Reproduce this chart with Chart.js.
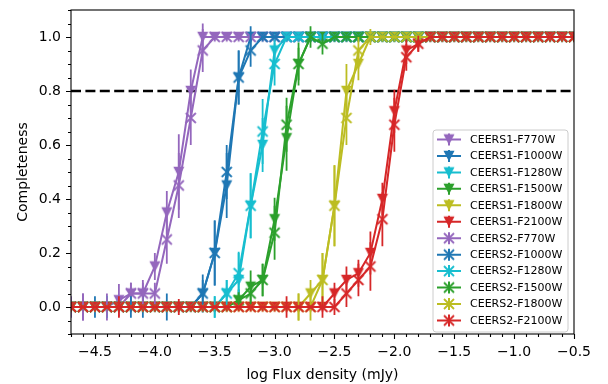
<!DOCTYPE html>
<html>
<head>
<meta charset="utf-8">
<script src="https://cdn.jsdelivr.net/npm/chart.js@4.4.1/dist/chart.umd.min.js"></script>
<style>
  html, body { margin: 0; padding: 0; background: #fff; }
</style>
</head>
<body>
<canvas id="chart" width="608" height="384"></canvas>
<script>
// log flux bins (mJy)
const xValues = [-4.7, -4.6, -4.5, -4.4, -4.3, -4.2, -4.1, -4.0, -3.9, -3.8,
  -3.7, -3.6, -3.5, -3.4, -3.3, -3.2, -3.1, -3.0, -2.9, -2.8,
  -2.7, -2.6, -2.5, -2.4, -2.3, -2.2, -2.1, -2.0, -1.9, -1.8,
  -1.7, -1.6, -1.5, -1.4, -1.3, -1.2, -1.1, -1.0, -0.9, -0.8,
  -0.7, -0.6, -0.5];

const xTicks = [-4.5, -4.0, -3.5, -3.0, -2.5, -2.0, -1.5, -1.0, -0.5];
const yTicks = [0.0, 0.2, 0.4, 0.6, 0.8, 1.0];
const limitLine = 0.8;

const labels = ["CEERS1-F770W", "CEERS1-F1000W", "CEERS1-F1280W", "CEERS1-F1500W", "CEERS1-F1800W", "CEERS1-F2100W",
  "CEERS2-F770W", "CEERS2-F1000W", "CEERS2-F1280W", "CEERS2-F1500W", "CEERS2-F1800W", "CEERS2-F2100W"];
const colors = ["#9467bd", "#1f77b4", "#17becf", "#2ca02c", "#bcbd22", "#d62728",
  "#9467bd", "#1f77b4", "#17becf", "#2ca02c", "#bcbd22", "#d62728"];

// completeness per field / filter
const c1F770 = [0, 0, 0, 0, 0.025, 0.05, 0.05, 0.15, 0.35, 0.5,
  0.8, 1, 1, 1, 1, 1, 1, 1, 1, 1,
  1, 1, 1, 1, 1, 1, 1, 1, 1, 1,
  1, 1, 1, 1, 1, 1, 1, 1, 1, 1,
  1, 1, 1];
const c1F1000 = [0, 0, 0, 0, 0, 0, 0, 0, 0, 0,
  0, 0.05, 0.2, 0.45, 0.85, 1, 1, 1, 1, 1,
  1, 1, 1, 1, 1, 1, 1, 1, 1, 1,
  1, 1, 1, 1, 1, 1, 1, 1, 1, 1,
  1, 1, 1];
const c1F1280 = [0, 0, 0, 0, 0, 0, 0, 0, 0, 0,
  0, 0, 0, 0.05, 0.1, 0.375, 0.6, 0.95, 1, 1,
  1, 1, 1, 1, 1, 1, 1, 1, 1, 1,
  1, 1, 1, 1, 1, 1, 1, 1, 1, 1,
  1, 1, 1];
const c1F1500 = [0, 0, 0, 0, 0, 0, 0, 0, 0, 0,
  0, 0, 0, 0, 0.025, 0.075, 0.1, 0.325, 0.625, 0.9,
  1, 1, 1, 1, 1, 1, 1, 1, 1, 1,
  1, 1, 1, 1, 1, 1, 1, 1, 1, 1,
  1, 1, 1];
const c1F1800 = [0, 0, 0, 0, 0, 0, 0, 0, 0, 0,
  0, 0, 0, 0, 0, 0, 0, 0, 0, 0,
  0.05, 0.1, 0.375, 0.8, 0.9, 1, 1, 1, 1, 1,
  1, 1, 1, 1, 1, 1, 1, 1, 1, 1,
  1, 1, 1];
const c1F2100 = [0, 0, 0, 0, 0, 0, 0, 0, 0, 0,
  0, 0, 0, 0, 0, 0, 0, 0, 0, 0,
  0, 0, 0.05, 0.1, 0.125, 0.2, 0.4, 0.725, 0.95, 0.975,
  1, 1, 1, 1, 1, 1, 1, 1, 1, 1,
  1, 1, 1];
const c2F770 = [0, 0, 0, 0, 0, 0.05, 0.05, 0.05, 0.25, 0.45,
  0.7, 0.95, 1, 1, 1, 1, 1, 1, 1, 1,
  1, 1, 1, 1, 1, 1, 1, 1, 1, 1,
  1, 1, 1, 1, 1, 1, 1, 1, 1, 1,
  1, 1, 1];
const c2F1000 = [0, 0, 0, 0, 0, 0, 0, 0, 0, 0,
  0, 0.05, 0.2, 0.5, 0.85, 0.95, 1, 1, 1, 1,
  1, 1, 1, 1, 1, 1, 1, 1, 1, 1,
  1, 1, 1, 1, 1, 1, 1, 1, 1, 1,
  1, 1, 1];
const c2F1280 = [0, 0, 0, 0, 0, 0, 0, 0, 0, 0,
  0, 0, 0, 0.05, 0.125, 0.375, 0.65, 0.9, 1, 1,
  1, 1, 1, 1, 1, 1, 1, 1, 1, 1,
  1, 1, 1, 1, 1, 1, 1, 1, 1, 1,
  1, 1, 1];
const c2F1500 = [0, 0, 0, 0, 0, 0, 0, 0, 0, 0,
  0, 0, 0, 0, 0.025, 0.05, 0.1, 0.275, 0.675, 0.9,
  1, 0.975, 1, 1, 1, 1, 1, 1, 1, 1,
  1, 1, 1, 1, 1, 1, 1, 1, 1, 1,
  1, 1, 1];
const c2F1800 = [0, 0, 0, 0, 0, 0, 0, 0, 0, 0,
  0, 0, 0, 0, 0, 0, 0, 0, 0, 0,
  0, 0.1, 0.375, 0.7, 0.95, 1, 1, 1, 1, 1,
  1, 1, 1, 1, 1, 1, 1, 1, 1, 1,
  1, 1, 1];
const c2F2100 = [0, 0, 0, 0, 0, 0, 0, 0, 0, 0,
  0, 0, 0, 0, 0, 0, 0, 0, 0, 0,
  0, 0, 0, 0.05, 0.1, 0.15, 0.325, 0.675, 0.925, 0.975,
  1, 1, 1, 1, 1, 1, 1, 1, 1, 1,
  1, 1, 1];

// error bar half-lengths
const e1F770 = [0.04, 0.05, 0, 0.05, 0.06, 0.04, 0.05, 0.05, 0.08, 0.14,
  0.08, 0.05, 0, 0, 0, 0, 0, 0, 0, 0,
  0, 0, 0, 0, 0, 0, 0, 0, 0, 0,
  0, 0, 0, 0, 0, 0, 0, 0, 0, 0,
  0, 0, 0];
const e1F1000 = [0, 0, 0.04, 0, 0, 0, 0.04, 0, 0.05, 0,
  0, 0.07, 0.12, 0.12, 0.1, 0.04, 0, 0, 0, 0,
  0, 0, 0, 0, 0, 0, 0, 0, 0, 0,
  0, 0, 0, 0, 0, 0, 0, 0, 0, 0,
  0, 0, 0];
const e1F1280 = [0, 0, 0, 0.04, 0, 0, 0, 0, 0, 0,
  0, 0, 0.04, 0.05, 0.1, 0.12, 0.1, 0.06, 0, 0,
  0, 0, 0, 0, 0, 0, 0, 0, 0, 0,
  0, 0, 0, 0, 0, 0, 0, 0, 0, 0,
  0, 0, 0];
const e1F1500 = [0, 0, 0, 0, 0, 0, 0, 0, 0, 0,
  0, 0, 0, 0, 0.04, 0.06, 0.06, 0.08, 0.12, 0.08,
  0.04, 0, 0, 0, 0, 0, 0, 0, 0, 0,
  0, 0, 0, 0, 0, 0, 0, 0, 0, 0,
  0, 0, 0];
const e1F1800 = [0, 0, 0, 0, 0, 0, 0, 0, 0, 0,
  0, 0, 0, 0, 0, 0, 0, 0, 0, 0.05,
  0.05, 0.1, 0.15, 0.1, 0.06, 0.03, 0, 0, 0, 0,
  0, 0, 0, 0, 0, 0, 0, 0, 0, 0,
  0, 0, 0];
const e1F2100 = [0, 0, 0, 0, 0, 0, 0, 0, 0, 0,
  0, 0, 0, 0, 0, 0, 0, 0, 0, 0,
  0, 0, 0.04, 0.05, 0.05, 0.08, 0.06, 0.08, 0.05, 0.03,
  0, 0, 0, 0, 0, 0, 0, 0, 0, 0,
  0, 0, 0];
const e2F770 = [0, 0.05, 0, 0.04, 0, 0.04, 0.04, 0.04, 0.09, 0.12,
  0.1, 0.08, 0, 0, 0, 0, 0, 0, 0, 0,
  0, 0, 0, 0, 0, 0, 0, 0, 0, 0,
  0, 0, 0, 0, 0, 0, 0, 0, 0, 0,
  0, 0, 0];
const e2F1000 = [0, 0, 0, 0, 0, 0.04, 0, 0, 0, 0,
  0, 0.05, 0.12, 0.1, 0.1, 0.06, 0, 0, 0, 0,
  0, 0, 0, 0, 0, 0, 0, 0, 0, 0,
  0, 0, 0, 0, 0, 0, 0, 0, 0, 0,
  0, 0, 0];
const e2F1280 = [0, 0, 0, 0, 0, 0, 0, 0, 0, 0,
  0, 0, 0.04, 0.05, 0.08, 0.12, 0.12, 0.08, 0, 0,
  0, 0, 0, 0, 0, 0, 0, 0, 0, 0,
  0, 0, 0, 0, 0, 0, 0, 0, 0, 0,
  0, 0, 0];
const e2F1500 = [0, 0, 0, 0, 0, 0, 0, 0, 0, 0,
  0, 0, 0, 0, 0.03, 0.04, 0.06, 0.1, 0.1, 0.06,
  0, 0.04, 0, 0, 0, 0, 0, 0, 0, 0,
  0, 0, 0, 0, 0, 0, 0, 0, 0, 0,
  0, 0, 0];
const e2F1800 = [0, 0, 0, 0, 0, 0, 0, 0, 0, 0,
  0, 0, 0, 0, 0, 0, 0, 0, 0, 0.05,
  0.05, 0.1, 0.15, 0.1, 0.05, 0, 0, 0, 0, 0,
  0, 0, 0, 0, 0, 0, 0, 0, 0, 0,
  0, 0, 0];
const e2F2100 = [0, 0, 0, 0, 0.04, 0, 0, 0, 0, 0.03,
  0, 0, 0, 0, 0, 0, 0, 0, 0.04, 0,
  0, 0.04, 0.03, 0.05, 0.06, 0.09, 0.1, 0.1, 0.05, 0.03,
  0, 0, 0, 0, 0, 0, 0, 0, 0, 0,
  0, 0, 0];

const series = [c1F770, c1F1000, c1F1280, c1F1500, c1F1800, c1F2100,
  c2F770, c2F1000, c2F1280, c2F1500, c2F1800, c2F2100];
const errors = [e1F770, e1F1000, e1F1280, e1F1500, e1F1800, e1F2100,
  e2F770, e2F1000, e2F1280, e2F1500, e2F1800, e2F2100];

const FONT = "'DejaVu Sans', sans-serif";

// marker images: down triangle for CEERS1, x for CEERS2
const makeMarker = (color, kind) => {
  const c = document.createElement("canvas");
  c.width = 14; c.height = 14;
  const g = c.getContext("2d");
  g.fillStyle = color;
  g.strokeStyle = color;
  if (kind === "v") {
    g.beginPath();
    g.moveTo(1.5, 1.8);
    g.lineTo(12.5, 1.8);
    g.lineTo(7, 12.6);
    g.closePath();
    g.fill();
  } else {
    g.lineWidth = 1.8;
    g.beginPath();
    g.moveTo(2, 2); g.lineTo(12, 12);
    g.moveTo(12, 2); g.lineTo(2, 12);
    g.stroke();
  }
  return c;
};
const markers = colors.map((c, i) => makeMarker(c, i < 6 ? "v" : "x"));

const datasets = series.map((vals, i) => ({
  label: labels[i],
  data: vals.map((v, k) => ({ x: xValues[k], y: v })),
  borderColor: colors[i],
  backgroundColor: colors[i],
  borderWidth: 2,
  pointStyle: markers[i],
  pointRadius: 6,
  tension: 0,
  fill: false,
  order: series.length - i, // first dataset drawn first, like matplotlib
}));

const fmt = (v) => v.toFixed(1).replace("-", "\u2212");

const decor = {
  id: "decor",
  beforeDatasetsDraw(chart) {
    const { ctx, chartArea: a, scales: { y } } = chart;
    const py = y.getPixelForValue(limitLine);
    ctx.save();
    ctx.strokeStyle = "#000";
    ctx.lineWidth = 2.6;
    ctx.setLineDash([10, 4.4]);
    ctx.beginPath();
    ctx.moveTo(a.left, py);
    ctx.lineTo(a.right, py);
    ctx.stroke();
    ctx.restore();
  },
  beforeDatasetDraw(chart, args) {
    const { ctx, chartArea: a, scales: { x, y } } = chart;
    const i = args.index;
    const err = errors[i];
    ctx.save();
    ctx.beginPath();
    ctx.rect(a.left, a.top, a.right - a.left, a.bottom - a.top);
    ctx.clip();
    ctx.strokeStyle = colors[i];
    ctx.lineWidth = 1.8;
    ctx.beginPath();
    series[i].forEach((v, k) => {
      if (!err[k]) return;
      const px = x.getPixelForValue(xValues[k]);
      ctx.moveTo(px, y.getPixelForValue(v - err[k]));
      ctx.lineTo(px, y.getPixelForValue(v + err[k]));
    });
    ctx.stroke();
    ctx.restore();
  },
  afterDatasetsDraw(chart) {
    const { ctx, chartArea: a, scales: { x, y } } = chart;
    ctx.save();
    ctx.strokeStyle = "#000";
    ctx.lineWidth = 1.1;
    ctx.strokeRect(a.left, a.top, a.right - a.left, a.bottom - a.top);
    ctx.beginPath();
    // x ticks: major 0.5, minor 0.1
    for (let k = 0; k <= 42; k++) {
      const v = -4.7 + k * 0.1;
      const px = Math.round(x.getPixelForValue(v)) + 0.5;
      const major = xTicks.some((t) => Math.abs(t - v) < 1e-6);
      ctx.moveTo(px, a.bottom);
      ctx.lineTo(px, a.bottom + (major ? 5 : 3));
    }
    // y ticks: major 0.2, minor 0.05
    for (let k = 0; k <= 24; k++) {
      const v = -0.1 + k * 0.05;
      const py = Math.round(y.getPixelForValue(v)) + 0.5;
      const major = yTicks.some((t) => Math.abs(t - v) < 1e-6);
      ctx.moveTo(a.left, py);
      ctx.lineTo(a.left - (major ? 5 : 3), py);
    }
    ctx.stroke();
    ctx.restore();
  },
  afterDraw(chart) {
    const { ctx } = chart;
    const bx = 433, by = 130, bw = 135, bh = 202, r = 3;
    ctx.save();
    ctx.fillStyle = "rgba(255,255,255,0.85)";
    ctx.strokeStyle = "#cccccc";
    ctx.lineWidth = 1;
    ctx.beginPath();
    ctx.moveTo(bx + r, by);
    ctx.arcTo(bx + bw, by, bx + bw, by + bh, r);
    ctx.arcTo(bx + bw, by + bh, bx, by + bh, r);
    ctx.arcTo(bx, by + bh, bx, by, r);
    ctx.arcTo(bx, by, bx + bw, by, r);
    ctx.closePath();
    ctx.fill();
    ctx.stroke();
    ctx.font = "11px " + FONT;
    ctx.textBaseline = "middle";
    ctx.textAlign = "left";
    labels.forEach((lab, i) => {
      const cy = 139.5 + i * 16.45;
      ctx.strokeStyle = colors[i];
      ctx.lineWidth = 2;
      ctx.beginPath();
      ctx.moveTo(437, cy);
      ctx.lineTo(461, cy);
      ctx.moveTo(449, cy - 6);
      ctx.lineTo(449, cy + 6);
      ctx.stroke();
      ctx.drawImage(markers[i], 449 - 7, cy - 7);
      ctx.fillStyle = "#000";
      ctx.fillText(lab, 470, cy + 0.5);
    });
    ctx.restore();
  },
};

const tickFont = { family: FONT, size: 14 };

new Chart(document.getElementById("chart"), {
  type: "line",
  data: { datasets },
  plugins: [decor],
  options: {
    responsive: false,
    animation: false,
    events: [],
    layout: { padding: { left: 0, right: 34, top: 10, bottom: 0 } },
    plugins: { legend: { display: false }, tooltip: { enabled: false } },
    scales: {
      x: {
        type: "linear",
        min: -4.7,
        max: -0.5,
        grid: { display: false, drawTicks: false },
        border: { display: false },
        afterBuildTicks: (s) => { s.ticks = xTicks.map((v) => ({ value: v })); },
        afterFit: (s) => { s.height = 50; s.paddingLeft = 0; s.paddingRight = 0; },
        ticks: { padding: 10, color: "#000", font: tickFont, maxRotation: 0, autoSkip: false, callback: (v) => fmt(v) },
        title: { display: true, text: "log Flux density (mJy)", color: "#000", font: tickFont, padding: { top: 0, bottom: 0 } },
      },
      y: {
        type: "linear",
        min: -0.1,
        max: 1.1,
        grid: { display: false, drawTicks: false },
        border: { display: false },
        afterBuildTicks: (s) => { s.ticks = yTicks.map((v) => ({ value: v })); },
        afterFit: (s) => { s.width = 71; s.paddingTop = 0; s.paddingBottom = 0; },
        ticks: { padding: 10, color: "#000", font: tickFont, autoSkip: false, callback: (v) => v.toFixed(1) },
        title: { display: true, text: "Completeness", color: "#000", font: tickFont, padding: { top: 15, bottom: 0 } },
      },
    },
  },
});
</script>
</body>
</html>
